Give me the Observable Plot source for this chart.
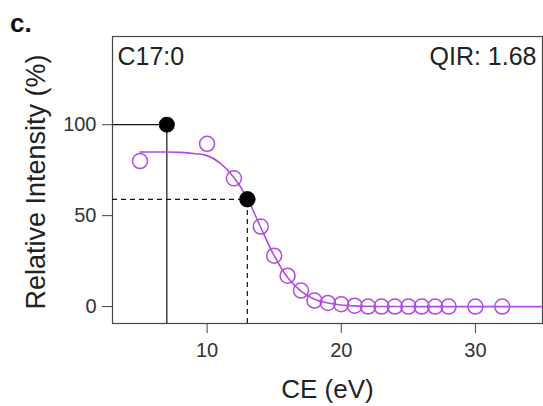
<!DOCTYPE html>
<html><head><meta charset="utf-8">
<script src="https://cdn.jsdelivr.net/npm/d3@7"></script>
<script src="https://cdn.jsdelivr.net/npm/@observablehq/plot@0.6"></script>
<style>
body{margin:0;background:#fff;font-family:"Liberation Sans",Arial,sans-serif;}
#wrap{position:relative;width:543px;height:406px;}
#panel{position:absolute;left:10px;top:8px;font-weight:bold;font-size:26px;color:#111;z-index:2;}
</style></head><body><div id="wrap"><div id="panel">c.</div></div>
<script>
// measured data (open circles)
const ceValues = [5,10,12,13,14,15,16,17,18,19,20,21,22,23,24,25,26,27,28,30,32];
const intensity = [80,89.5,70.5,59,44,28,17,8.8,3.3,2,1.3,0.5,0,0,0,0,0,0,0,0,0];
// fitted curve
const fitCE = [5,6,7,8,9,10,11,12,13,14,15,16,17,18,19,20,21,22,24,26,35];
const fitInt = [85,85,85,84.8,84.2,83,78.8,71,59.5,43.5,28,16,8.5,4,2,0.9,0.4,0.2,0.05,0,0];
// highlighted points
const maxCE = [7], maxInt = [100];
const qirCE = [13], qirInt = [59];
// axes
const xTicks = [10,20,30];
const yTicks = [0,50,100];
const xDomain = [2.95,35];
const yDomain = [-9.3,148.5];
const xLabel = "CE (eV)";
const yLabel = "Relative Intensity (%)";
const lipid = "C17:0";
const qirText = "QIR: 1.68";

const purple = "#b44be1";
const pts = ceValues.map((x,i)=>({x, y:intensity[i]}));
const fit = fitCE.map((x,i)=>({x, y:fitInt[i]}));
const maxPt = maxCE.map((x,i)=>({x, y:maxInt[i]}));
const qirPt = qirCE.map((x,i)=>({x, y:qirInt[i]}));

const chart = Plot.plot({
  width:543, height:406,
  marginLeft:112, marginRight:1, marginTop:36, marginBottom:83,
  style:{fontFamily:"'Liberation Sans', Arial, sans-serif", fontSize:"20px", color:"#333", background:"white", overflow:"visible"},
  x:{domain:xDomain},
  y:{domain:yDomain},
  marks:[
    Plot.frame({stroke:"#444", strokeWidth:1.2}),
    Plot.axisX({ticks:xTicks, tickSize:10, tickPadding:9, label:null, fontSize:20, stroke:"#444"}),
    Plot.axisY({ticks:yTicks, tickSize:10, tickPadding:6, label:null, fontSize:20, stroke:"#444"}),
    Plot.text([xLabel], {text:d=>d, frameAnchor:"bottom", dy:74, fontSize:26, fill:"#222"}),
    Plot.text([yLabel], {text:d=>d, frameAnchor:"left", textAnchor:"middle", dx:-76, dy:2, rotate:-90, fontSize:27, fill:"#222"}),
    Plot.text([lipid], {text:d=>d, frameAnchor:"top-left", textAnchor:"start", lineAnchor:"top", dx:5, dy:11, fontSize:25, fill:"#222"}),
    Plot.text([qirText], {text:d=>d, frameAnchor:"top-right", textAnchor:"end", lineAnchor:"top", dx:-6, dy:11, fontSize:25, fill:"#222"}),
    // guide lines
    Plot.ruleX(maxPt, {x:"x", y1:yDomain[0], y2:"y", stroke:"#111", strokeWidth:1.2}),
    Plot.ruleY(maxPt, {y:"y", x1:xDomain[0], x2:"x", stroke:"#111", strokeWidth:1.2}),
    Plot.ruleX(qirPt, {x:"x", y1:yDomain[0], y2:"y", stroke:"#111", strokeWidth:1.2, strokeDasharray:"5,4"}),
    Plot.ruleY(qirPt, {y:"y", x1:xDomain[0], x2:"x", stroke:"#111", strokeWidth:1.2, strokeDasharray:"5,4"}),
    Plot.line(fit, {x:"x", y:"y", stroke:purple, strokeWidth:1.6, curve:"monotone-x"}),
    Plot.dot(pts, {x:"x", y:"y", r:7.5, stroke:purple, strokeWidth:1.5, fill:"none"}),
    Plot.dot(maxPt.concat(qirPt), {x:"x", y:"y", r:8, fill:"#000", stroke:"none"})
  ]
});
document.getElementById("wrap").prepend(chart);
</script>
</body></html>
